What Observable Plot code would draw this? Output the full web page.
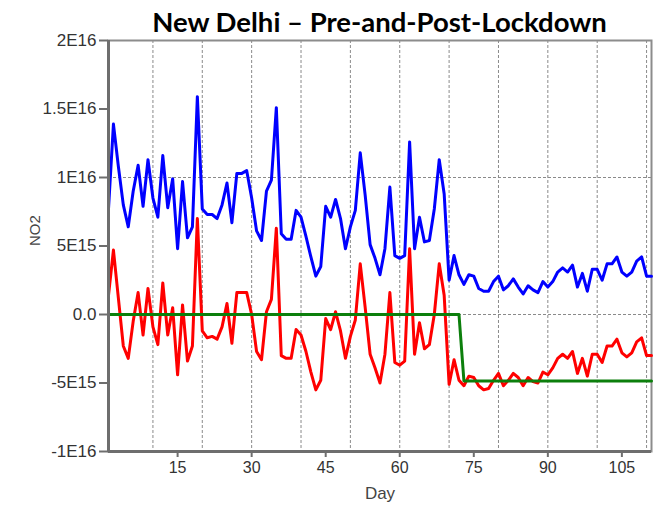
<!DOCTYPE html>
<html>
<head>
<meta charset="utf-8">
<script src="https://cdn.jsdelivr.net/npm/d3@7"></script>
<script src="https://cdn.jsdelivr.net/npm/@observablehq/plot@0.6"></script>
<style>
  body { margin: 0; background: #fff; }
  #wrap { position: relative; width: 662px; height: 507px; }
  #title { position: absolute; top: 8px; left: 108px; width: 543px;
    font: bold 27.5px Lato, "Open Sans", sans-serif; line-height: 1; text-align: center; color: #000; white-space: nowrap; z-index: 2; }
  #chart svg { position: absolute; top: 0; left: 0; }
</style>
</head>
<body>
<div id="wrap">
<div id="chart"></div>
<div id="title">New Delhi – Pre-and-Post-Lockdown</div>
</div>
<script>
const days = d3.range(1, 112);
const observed = [
  7.7e15, 13.9e15, 10.8e15, 8.0e15, 6.4e15, 9.0e15, 10.9e15, 7.9e15, 11.3e15, 8.5e15,
  7.1e15, 11.6e15, 7.8e15, 9.9e15, 4.8e15, 9.7e15, 5.6e15, 6.4e15, 15.9e15, 7.7e15,
  7.3e15, 7.3e15, 7.0e15, 8.0e15, 9.6e15, 6.7e15, 10.3e15, 10.3e15, 10.5e15, 8.5e15,
  6.1e15, 5.4e15, 9.0e15, 9.8e15, 15.1e15, 5.9e15, 5.5e15, 5.5e15, 7.6e15, 7.1e15,
  5.7e15, 4.2e15, 2.8e15, 3.5e15, 7.9e15, 7.1e15, 8.4e15, 7.0e15, 4.8e15, 6.4e15,
  7.6e15, 11.8e15, 8.7e15, 5.1e15, 4.1e15, 2.9e15, 4.8e15, 9.3e15, 4.3e15, 4.1e15,
  4.3e15, 12.6e15, 4.8e15, 7.1e15, 5.3e15, 5.4e15, 7.7e15, 11.3e15, 8.8e15, 2.5e15,
  4.3e15, 2.9e15, 2.2e15, 2.9e15, 2.8e15, 1.9e15, 1.7e15, 1.7e15, 2.4e15, 2.8e15,
  1.8e15, 2.1e15, 2.6e15, 2.0e15, 1.5e15, 2.1e15, 1.8e15, 1.6e15, 2.4e15, 2.0e15,
  2.4e15, 3.1e15, 3.4e15, 3.1e15, 3.6e15, 2.0e15, 3.0e15, 1.7e15, 3.3e15, 3.3e15,
  2.5e15, 3.7e15, 3.7e15, 4.2e15, 3.1e15, 2.8e15, 3.1e15, 3.9e15, 4.2e15, 2.8e15,
  2.8e15
];
const residual = [
  1.4e15, 4.7e15, 1.2e15, -2.3e15, -3.2e15, -0.5e15, 1.6e15, -1.5e15, 1.9e15, -0.9e15,
  -2.2e15, 2.3e15, -1.5e15, 0.5e15, -4.4e15, 0.7e15, -3.4e15, -2.3e15, 7.0e15, -1.2e15,
  -1.7e15, -1.6e15, -1.8e15, -0.9e15, 0.8e15, -2.1e15, 1.6e15, 1.6e15, 1.6e15, 0.0,
  -2.7e15, -3.3e15, 0.2e15, 1.1e15, 6.3e15, -3.0e15, -3.2e15, -3.2e15, -1.1e15, -1.5e15,
  -2.7e15, -4.2e15, -5.5e15, -4.8e15, -0.3e15, -1.1e15, 0.2e15, -1.2e15, -3.2e15, -1.6e15,
  -0.4e15, 3.7e15, 0.5e15, -2.9e15, -3.9e15, -5.0e15, -2.9e15, 1.6e15, -3.5e15, -3.7e15,
  -3.4e15, 4.8e15, -2.9e15, -0.6e15, -2.5e15, -2.2e15, 0.0, 3.7e15, 1.4e15, -5.1e15,
  -3.3e15, -4.8e15, -5.2e15, -4.5e15, -4.6e15, -5.2e15, -5.5e15, -5.4e15, -4.8e15, -4.3e15,
  -5.2e15, -4.8e15, -4.3e15, -4.6e15, -5.2e15, -4.6e15, -4.9e15, -5.0e15, -4.2e15, -4.4e15,
  -3.9e15, -3.2e15, -2.9e15, -3.2e15, -2.7e15, -4.3e15, -3.2e15, -4.5e15, -2.9e15, -2.9e15,
  -3.5e15, -2.3e15, -2.3e15, -1.8e15, -2.8e15, -3.1e15, -2.8e15, -2.0e15, -1.7e15, -3.0e15,
  -3.0e15
];
const stepDays = [1, 72, 73, 111];
const stepValues = [0, 0, -4.85e15, -4.85e15];

const xTicks = [15, 30, 45, 60, 75, 90, 105];
const xGrid = [10, 20, 30, 40, 50, 60, 70, 80, 90, 100, 110];
const yTicks = [-1e16, -5e15, 0, 5e15, 1e16, 1.5e16, 2e16];
const yTickLabels = ["-1E16", "-5E15", "0.0", "5E15", "1E16", "1.5E16", "2E16"];
const yGrid = [0, 1e16];
const yLabel = "NO2";
const xLabel = "Day";

const blueData = days.map((d, i) => ({day: d, v: observed[i]}));
const redData = days.map((d, i) => ({day: d, v: residual[i]}));
const greenData = stepDays.map((d, i) => ({day: d, v: stepValues[i]}));
const yLabelMap = new Map(yTicks.map((t, i) => [t, yTickLabels[i]]));

const chart = Plot.plot({
  width: 662,
  height: 507,
  marginLeft: 108,
  marginRight: 11,
  marginTop: 40,
  marginBottom: 56,
  style: {fontFamily: "'Liberation Sans', Arial, sans-serif", background: "transparent"},
  x: {domain: [1, 111]},
  y: {domain: [-1e16, 2e16]},
  marks: [
    Plot.ruleX(xGrid, {stroke: "#8a8a8a", strokeDasharray: "3,2", strokeWidth: 1}),
    Plot.ruleY(yGrid, {stroke: "#8a8a8a", strokeDasharray: "3,2", strokeWidth: 1}),
    Plot.frame({stroke: "#8c8c8c", strokeWidth: 2}),
    Plot.line(blueData, {x: "day", y: "v", stroke: "#0000ff", strokeWidth: 3, strokeLinejoin: "round"}),
    Plot.line(redData, {x: "day", y: "v", stroke: "#ff0000", strokeWidth: 3, strokeLinejoin: "round"}),
    Plot.line(greenData, {x: "day", y: "v", stroke: "#0c7f0c", strokeWidth: 3}),
    Plot.ruleX([1], {stroke: "#6e6e6e", strokeWidth: 3}),
    Plot.ruleY([-1e16], {stroke: "#6e6e6e", strokeWidth: 3}),
    Plot.axisY({ticks: yTicks, tickFormat: d => yLabelMap.get(d), fontSize: 17, tickSize: 9, tickPadding: 3,
      stroke: "#6e6e6e", strokeWidth: 2, color: "#333", label: null}),
    Plot.axisX({ticks: xTicks, tickFormat: d => String(d), fontSize: 16, tickSize: 6, tickPadding: 4,
      stroke: "#6e6e6e", strokeWidth: 2, color: "#333", label: null}),
    Plot.text([yLabel], {frameAnchor: "left", rotate: -90, dx: -73, fontSize: 15, fill: "#444"}),
    Plot.text([xLabel], {frameAnchor: "bottom", dy: 47, fontSize: 17, fill: "#444"})
  ]
});
document.getElementById("chart").appendChild(chart);
</script>
</body>
</html>
